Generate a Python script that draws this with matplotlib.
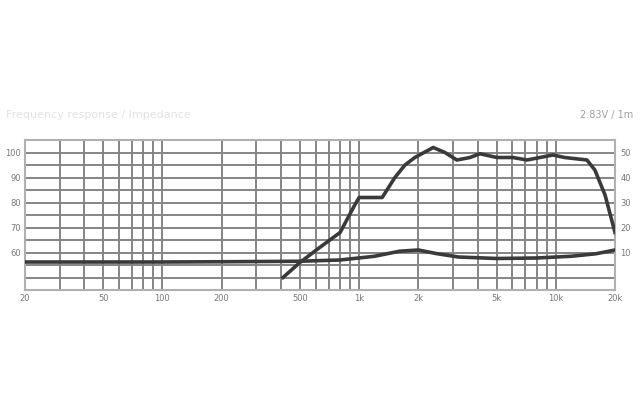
"""Tweeter frequency response and impedance chart
"""
import matplotlib
matplotlib.use("Agg")
import matplotlib.pyplot as plt
import matplotlib.ticker as tck

# SPL curve (Hz, dB)
spl_freqs = [410, 500, 630, 800, 950, 1000, 1160, 1310, 1520, 1710, 1920, 2380,
             2730, 3140, 3660, 4110, 5020, 6050, 7130, 8300, 9660, 11100,
             14400, 15800, 17800, 20000]
spl_db = [50, 56, 62, 68, 79, 82, 82, 82, 90, 95, 98, 102,
          100, 97, 98, 99.5, 98, 98, 97, 98, 99, 98,
          97, 93, 83, 68]

# Impedance curve (Hz, ohm)
imp_freqs = [20, 50, 100, 200, 500, 800, 1200, 1600, 2000, 2500, 3200,
             5000, 8000, 12000, 16000, 20000]
imp_ohm = [6.2, 6.2, 6.2, 6.3, 6.5, 7.0, 8.5, 10.5, 11, 9.5, 8.2,
           7.6, 7.8, 8.5, 9.5, 11]

x_ticks = [20, 50, 100, 200, 500, 1000, 2000, 5000, 10000, 20000]
x_labels = ["20", "50", "100", "200", "500", "1k", "2k", "5k", "10k", "20k"]
db_ticks = [60, 70, 80, 90, 100]
ohm_ticks = [10, 20, 30, 40, 50]

grid_color = "#858585"
curve_color = "#3a3a3a"
text_color = "#777777"

fig = plt.figure(figsize=(6.4, 4.0), dpi=100)
ax = fig.add_axes([25 / 640, 1 - 290 / 400, 590 / 640, 150 / 400])
ax.semilogx(spl_freqs, spl_db, color=curve_color, lw=2.6, zorder=3)

# impedance on the right scale
ax2 = ax.twinx()
ax2.semilogx(imp_freqs, imp_ohm, color=curve_color, lw=2.6)
ax2.set_ylim(-5, 55)
ax2.yaxis.set_major_locator(tck.FixedLocator(ohm_ticks))
ax2.tick_params(length=0, labelsize=6, colors=text_color, pad=4)
for s in ax2.spines.values():
    s.set_visible(False)

ax.set_xlim(20, 20000)
ax.set_ylim(45, 105)

ax.xaxis.set_major_locator(tck.FixedLocator(x_ticks))
ax.xaxis.set_major_formatter(tck.FixedFormatter(x_labels))
ax.xaxis.set_minor_locator(tck.LogLocator(base=10, subs=range(1, 10)))
ax.xaxis.set_minor_formatter(tck.NullFormatter())
ax.yaxis.set_major_locator(tck.MultipleLocator(5))
ax.yaxis.set_major_formatter(
    tck.FuncFormatter(lambda v, p: f"{v:.0f}" if round(v) in db_ticks else ""))

ax.grid(True, which="both", axis="x", color=grid_color, lw=1.4)
ax.grid(True, which="major", axis="y", color=grid_color, lw=1.4)
ax.tick_params(which="both", length=0, labelsize=6, colors=text_color, pad=3)
for s in ax.spines.values():
    s.set_color("#b0b0b0")
    s.set_linewidth(1.5)

fig.text(0.01, 1 - 115 / 400, "Frequency response / Impedance",
         fontsize=8, color="#e2e2e2", va="center")
fig.text(0.99, 1 - 115 / 400, "2.83V / 1m", fontsize=7, color="#a0a0a0",
         va="center", ha="right")

fig.savefig("out.png", dpi=100)
